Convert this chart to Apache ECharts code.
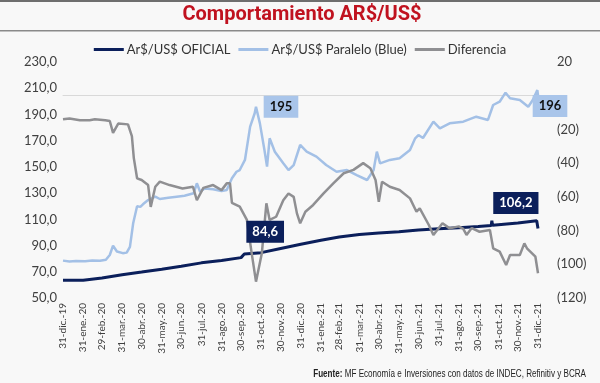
<!DOCTYPE html>
<html>
<head>
<meta charset="utf-8">
<script src="https://cdn.jsdelivr.net/npm/echarts@6/dist/echarts.min.js"></script>
<style>
  html, body { margin: 0; padding: 0; background: #f8f8f8; }
  #chart { width: 600px; height: 383px; }
</style>
</head>
<body>
<div id="chart"></div>
<script>
// ---- Data ----
const meses = ['ene.', 'feb.', 'mar.', 'abr.', 'may.', 'jun.', 'jul.', 'ago.', 'sep.', 'oct.', 'nov.', 'dic.'];
const nombresSeries = ['Ar$/US$ OFICIAL', 'Ar$/US$ Paralelo (Blue)', 'Diferencia'];
const titulo = 'Comportamiento AR$/US$';
const fuente = '{b|Fuente:} MF Economía e Inversiones con datos de INDEC, Refinitiv y BCRA';

const oficialFechas = ['2019-12-31','2020-01-31','2020-02-29','2020-03-31','2020-04-30','2020-05-31','2020-06-30','2020-07-31','2020-08-31','2020-09-30','2020-10-02','2020-10-05','2020-10-31','2020-11-30','2020-12-31','2021-01-31','2021-02-28','2021-03-31','2021-04-30','2021-05-31','2021-06-30','2021-07-31','2021-08-31','2021-09-30','2021-10-20','2021-10-21','2021-10-22','2021-10-31','2021-11-30','2021-12-29','2021-12-30','2021-12-31'];
const oficialValores = [63.5, 63.6, 65.2, 67.8, 69.8, 72.0, 74.2, 76.8, 78.6, 80.8, 81.2, 83.5, 84.6, 87.8, 91.0, 94.0, 96.5, 98.5, 99.6, 100.6, 101.8, 102.8, 103.6, 104.5, 105.3, 109.0, 105.5, 105.9, 107.2, 109.0, 109.2, 103.0];

const blueFechas = ['2019-12-31','2020-01-10','2020-01-20','2020-02-03','2020-02-14','2020-02-26','2020-03-06','2020-03-12','2020-03-17','2020-03-23','2020-04-01','2020-04-07','2020-04-12','2020-04-17','2020-04-23','2020-04-28','2020-05-02','2020-05-10','2020-05-21','2020-05-28','2020-06-10','2020-06-23','2020-07-05','2020-07-19','2020-07-24','2020-07-29','2020-08-05','2020-08-18','2020-08-31','2020-09-08','2020-09-16','2020-09-23','2020-09-28','2020-10-06','2020-10-14','2020-10-21','2020-10-23','2020-10-29','2020-11-05','2020-11-09','2020-11-13','2020-11-21','2020-12-04','2020-12-12','2020-12-20','2020-12-30','2021-01-09','2021-01-24','2021-02-08','2021-02-24','2021-03-12','2021-03-27','2021-04-12','2021-04-22','2021-04-27','2021-05-02','2021-05-17','2021-06-01','2021-06-17','2021-06-25','2021-06-30','2021-07-07','2021-07-23','2021-08-02','2021-08-17','2021-09-07','2021-09-27','2021-10-15','2021-10-23','2021-11-02','2021-11-11','2021-11-18','2021-12-03','2021-12-16','2021-12-23','2021-12-30','2021-12-31'];
const blueValores = [78.5, 77.8, 78.2, 78.0, 78.6, 78.4, 79.2, 82.8, 89.9, 85.5, 84.2, 84.6, 89.0, 107.0, 120.0, 119.5, 121.5, 124.7, 127.3, 125.5, 126.5, 127.3, 128.0, 129.9, 137.5, 131.0, 133.5, 133.0, 131.5, 132.4, 141.3, 146.3, 147.6, 155.3, 180.7, 190.9, 195.9, 183.2, 162.9, 150.2, 171.8, 161.6, 152.7, 147.6, 151.4, 166.7, 161.6, 157.8, 151.4, 146.3, 147.6, 143.8, 140.0, 147.6, 161.6, 152.7, 155.3, 156.6, 162.9, 171.8, 174.3, 172.0, 184.5, 179.4, 183.2, 184.5, 188.3, 185.8, 197.2, 199.7, 206.6, 202.3, 201.0, 195.9, 201.0, 208.6, 204.8];

const difFechas = ['2019-12-31','2020-01-10','2020-01-26','2020-02-10','2020-02-18','2020-03-05','2020-03-12','2020-03-17','2020-03-25','2020-04-09','2020-04-15','2020-04-18','2020-04-23','2020-04-30','2020-05-10','2020-05-14','2020-05-21','2020-05-28','2020-06-12','2020-07-02','2020-07-18','2020-07-24','2020-08-03','2020-08-18','2020-08-31','2020-09-08','2020-09-13','2020-09-16','2020-09-28','2020-10-09','2020-10-16','2020-10-23','2020-11-01','2020-11-08','2020-11-13','2020-11-23','2020-12-04','2020-12-12','2020-12-20','2020-12-25','2020-12-30','2021-01-07','2021-01-19','2021-02-04','2021-02-19','2021-03-07','2021-03-22','2021-04-06','2021-04-17','2021-04-25','2021-04-30','2021-05-05','2021-05-17','2021-06-01','2021-06-17','2021-06-27','2021-07-02','2021-07-16','2021-07-23','2021-08-06','2021-08-17','2021-08-31','2021-09-07','2021-09-12','2021-09-20','2021-10-02','2021-10-18','2021-10-23','2021-11-02','2021-11-12','2021-11-18','2021-12-03','2021-12-10','2021-12-14','2021-12-27','2021-12-31'];
const difValores = [-14, -13.5, -14.5, -14.5, -14, -14.5, -15, -22, -16.5, -17, -24, -37, -49, -50, -53, -66, -54, -51, -53, -55, -54, -62, -54.7, -53, -56, -52, -52, -63.6, -65.8, -73.7, -92.5, -110.3, -93.5, -63.8, -73.7, -71.8, -62, -58, -60, -69.8, -75.7, -68.8, -64.8, -57.9, -52, -46, -44, -40, -43, -50, -62.9, -51, -54, -55.9, -60.9, -68.8, -66.8, -76.7, -82.6, -75.7, -78.7, -77.5, -79, -82.6, -78.5, -80.7, -79.7, -90.5, -92.5, -100.4, -94.5, -94.5, -87.6, -90.5, -95.5, -105.3];

// annotations: series index, date, value, text
const anotacionSerie = [1, 1, 0, 0];
const anotacionFechas = ['2020-10-23', '2021-12-31', '2020-10-31', '2021-11-30'];
const anotacionValores = [195.9, 204.8, 84.6, 107.2];
const anotacionTextos = ['195', '196', '84,6', '106,2'];

// ---- Axis categories: every day ----
const dias = [];
for (let t = Date.UTC(2019, 11, 31); t <= Date.UTC(2021, 11, 31); t += 86400000) {
  dias.push(new Date(t).toISOString().slice(0, 10));
}
function esFinDeMes(s) {
  const d = new Date(s + 'T00:00:00Z');
  return new Date(d.getTime() + 86400000).getUTCDate() === 1;
}
function etiqueta(s) {
  const d = new Date(s + 'T00:00:00Z');
  return d.getUTCDate() + '-' + meses[d.getUTCMonth()] + '-' + String(d.getUTCFullYear()).slice(2);
}
const pares = (f, v) => f.map((x, i) => [dias.indexOf(x), v[i]]);

const NAVY = '#0b1f5b', LBLUE = '#a3c0e6', GREY = '#8f8f92';
const FONT = 'Lato, "Open Sans", sans-serif';

const labelStyles = [
  { offset: [25, 0], backgroundColor: '#a9c5ea', color: '#111' },
  { offset: [12, 11], backgroundColor: '#a9c5ea', color: '#111' },
  { offset: [4, -21], backgroundColor: NAVY, color: '#fff' },
  { offset: [-2, -20], backgroundColor: NAVY, color: '#fff' }
];
function marcas(serie) {
  const out = [];
  anotacionSerie.forEach((s, i) => {
    if (s !== serie) return;
    const st = labelStyles[i];
    out.push({
      coord: [dias.indexOf(anotacionFechas[i]), anotacionValores[i]],
      value: anotacionTextos[i],
      label: {
        show: true, position: 'inside', offset: st.offset,
        formatter: anotacionTextos[i],
        backgroundColor: st.backgroundColor, color: st.color,
        fontFamily: FONT, fontWeight: 'bold', fontSize: 13,
        padding: [5, 6, 4, 6]
      }
    });
  });
  return { symbol: 'circle', symbolSize: 1, itemStyle: { color: 'rgba(0,0,0,0)' }, data: out, z: 10 };
}

const chart = echarts.init(document.getElementById('chart'), null, { renderer: 'canvas' });
chart.setOption({
  backgroundColor: '#f8f8f8',
  animation: false,
  graphic: [
    { type: 'rect', shape: { x: 0, y: 0, width: 600, height: 2 }, style: { fill: '#6e6e6e' } },
    { type: 'rect', shape: { x: 0, y: 30, width: 600, height: 1.5 }, style: { fill: '#8a8a8a' } },
    {
      type: 'text', x: 302, y: 15,
      style: {
        text: titulo, textAlign: 'center', textVerticalAlign: 'middle',
        fontFamily: 'Roboto, sans-serif', fontWeight: 'bold', fontSize: 20, fill: '#c0121f'
      }
    },
    {
      type: 'text', x: 586, y: 374, scaleX: 0.81,
      style: {
        text: fuente, textAlign: 'right', textVerticalAlign: 'middle',
        rich: {
          b: { fontWeight: 'bold', fontFamily: '"Liberation Sans", Arial, sans-serif', fontSize: 10, fill: '#222' }
        },
        fontFamily: '"Liberation Sans", Arial, sans-serif', fontSize: 10, fill: '#222'
      }
    }
  ],
  legend: {
    data: nombresSeries,
    top: 38, left: 'center',
    icon: 'rect', itemWidth: 30, itemHeight: 3, itemGap: 8,
    textStyle: { fontFamily: FONT, fontSize: 13, color: '#333', padding: [0, 0, 0, -2] }
  },
  grid: { left: 63, right: 62, top: 62, bottom: 85, containLabel: false },
  xAxis: {
    type: 'category', data: dias, boundaryGap: false,
    axisLine: { show: true, lineStyle: { color: '#d9d9d9', width: 1 } },
    axisTick: { show: false },
    axisLabel: {
      interval: (i, v) => esFinDeMes(v),
      formatter: v => etiqueta(v),
      rotate: 90, fontFamily: FONT, fontSize: 10, color: '#404040', margin: 5
    },
    splitLine: { show: false }
  },
  yAxis: [
    {
      type: 'value', min: 50, max: 230, interval: 20,
      axisLine: { show: false }, axisTick: { show: false }, splitLine: { show: false },
      axisLabel: {
        formatter: v => v.toFixed(1).replace('.', ','),
        fontFamily: FONT, fontSize: 13, color: '#404040', margin: 6
      }
    },
    {
      type: 'value', min: -120, max: 20, interval: 20,
      axisLine: { show: false }, axisTick: { show: false }, splitLine: { show: false },
      axisLabel: {
        formatter: v => v < 0 ? '(' + (-v) + ')' : (v === 0 ? '-' : String(v)),
        fontFamily: FONT, fontSize: 13, color: '#404040', margin: 19
      }
    }
  ],
  series: [
    {
      name: nombresSeries[0], type: 'line', yAxisIndex: 0, showSymbol: false,
      data: pares(oficialFechas, oficialValores),
      lineStyle: { color: NAVY, width: 3 }, itemStyle: { color: NAVY },
      markPoint: marcas(0)
    },
    {
      name: nombresSeries[1], type: 'line', yAxisIndex: 0, showSymbol: false,
      data: pares(blueFechas, blueValores),
      lineStyle: { color: LBLUE, width: 2.5 }, itemStyle: { color: LBLUE },
      markPoint: marcas(1)
    },
    {
      name: nombresSeries[2], type: 'line', yAxisIndex: 1, showSymbol: false,
      data: pares(difFechas, difValores),
      lineStyle: { color: GREY, width: 2.5 }, itemStyle: { color: GREY }
    }
  ]
});
</script>
</body>
</html>
